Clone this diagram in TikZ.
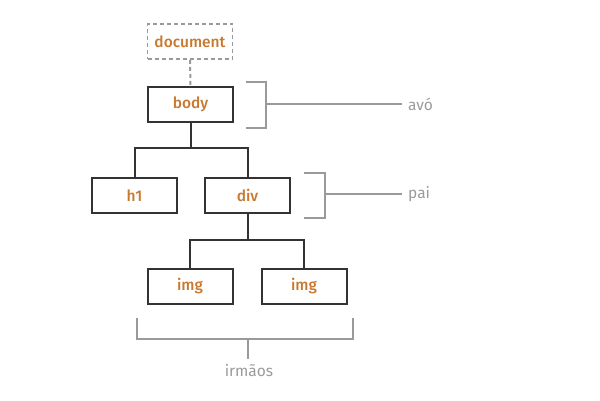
\documentclass[tikz,border=0pt]{standalone}
\usepackage{fontspec}
\setmainfont{Fira Sans}
\newfontfamily\semib{Fira Sans Medium}
\definecolor{txtorange}{HTML}{C8782F}
\definecolor{boxdark}{HTML}{333333}
\definecolor{lgray}{HTML}{9A9A9A}
\tikzset{
  treebox/.style={draw=boxdark, line width=2pt, minimum width=85pt, minimum height=35pt, inner sep=0pt, text=txtorange, font=\semib\fontsize{15.5}{17}\selectfont},
  docbox/.style={treebox, draw=lgray, dashed, dash pattern=on 4pt off 3pt, line width=1.8pt},
  edge/.style={draw=boxdark, line width=2pt},
  brk/.style={draw=lgray, line width=2pt},
  lbl/.style={text=lgray, font=\fontsize{15.5}{17}\selectfont, inner sep=0pt}
}
\begin{document}
\begin{tikzpicture}[x=1pt,y=-1pt]
\useasboundingbox (0,0) rectangle (600,400);
\node[docbox] (doc) at (190,41.5) {document};
\node[treebox] (body) at (190.5,104.5) {body};
\node[treebox] (h1) at (134.5,195.5) {h1};
\node[treebox] (div) at (247.5,195.5) {div};
\node[treebox] (img1) at (190,286.5) {img};
\node[treebox] (img2) at (304,286.5) {img};
% connectors
\draw[brk, dashed, dash pattern=on 4pt off 3pt] (doc.south) -- (body.north);
\coordinate (j1) at (190.5,148);
\draw[edge] (body.south) -- (j1);
\draw[edge] (h1.north) |- (j1) -| (div.north);
\coordinate (j2) at (247.5,240);
\draw[edge] (div.south) -- (j2);
\draw[edge] (img1.north) |- (j2) -| (img2.north);
% labels
\node[lbl, anchor=west] (avo) at (408,104) {avó};
\node[lbl, anchor=west] (pai) at (408,194) {pai};
\node[lbl] (irm) at (249,371) {irmãos};
% brackets
\coordinate (b1m) at (266,104);
\draw[brk] (246,82) -- (266,82) -- (266,128) -- (246,128);
\draw[brk] (b1m) -- ([xshift=-6pt]avo.west);
\coordinate (b2m) at (325,194);
\draw[brk] (304,173) -- (325,173) -- (325,218) -- (304,218);
\draw[brk] (b2m) -- ([xshift=-6pt]pai.west);
\coordinate (b3m) at (248,339);
\draw[brk] (137,318) -- (137,339) -- (353,339) -- (353,318);
\draw[brk] (b3m) -- (248,359);
\end{tikzpicture}
\end{document}
